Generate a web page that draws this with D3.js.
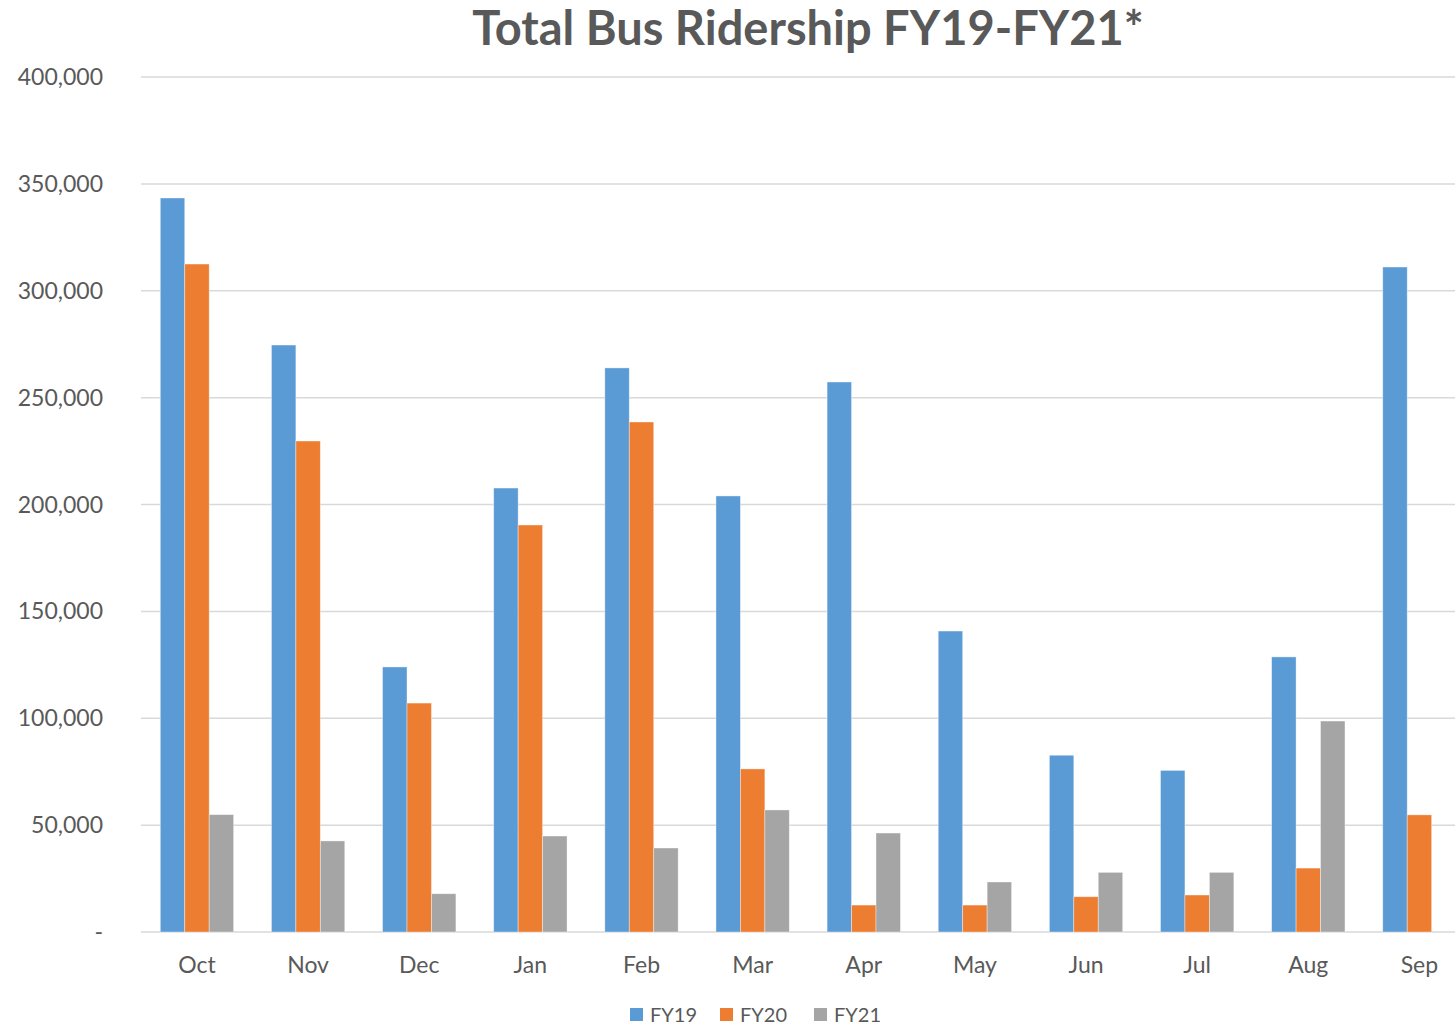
<!DOCTYPE html>
<html>
<head>
<meta charset="utf-8">
<script src="https://cdn.jsdelivr.net/npm/d3@7"></script>
<style>
  html, body { margin: 0; padding: 0; background: #fff; }
  svg { display: block; }
</style>
</head>
<body>
<svg id="chart" width="1455" height="1027"></svg>
<script>
const months = ["Oct","Nov","Dec","Jan","Feb","Mar","Apr","May","Jun","Jul","Aug","Sep"];
const seriesNames = ["FY19","FY20","FY21"];
const fy19 = [343400, 274600, 124000, 207700, 263900, 204000, 257300, 140800, 82700, 75600, 128700, 311100];
const fy20 = [312500, 229700, 107100, 190400, 238600, 76300, 12600, 12600, 16500, 17300, 29900, 54800];
const fy21 = [54900, 42600, 17900, 44900, 39300, 57100, 46300, 23400, 27900, 27900, 98700, null];
const yTicks = [0, 50000, 100000, 150000, 200000, 250000, 300000, 350000, 400000];
const colors = ["#5B9BD5", "#ED7D31", "#A5A5A5"];
const title = "Total Bus Ridership FY19-FY21*";

const svg = d3.select("#chart");
const font = "Lato, 'Open Sans', 'DejaVu Sans', sans-serif";
const textColor = "#595959";

const y = d3.scaleLinear().domain([0, 400000]).range([932, 77]);
const x0 = d3.scaleBand().domain(months).range([141.4, 1475]).paddingInner(0.34).paddingOuter(0.17);
const x1 = d3.scaleBand().domain(seriesNames).range([0, x0.bandwidth()]);

// gridlines
svg.append("g").selectAll("line").data(yTicks).join("line")
  .attr("x1", 141).attr("x2", 1455)
  .attr("y1", d => y(d)).attr("y2", d => y(d))
  .attr("stroke", "#d9d9d9").attr("stroke-width", 1.5);

// y tick labels
svg.append("g").selectAll("text").data(yTicks).join("text")
  .attr("x", 103).attr("y", d => y(d) + 8)
  .attr("text-anchor", "end")
  .attr("font-family", font).attr("font-size", 23).attr("fill", textColor)
  .text(d => d === 0 ? "-" : d3.format(",")(d));

// bars
const seriesData = [fy19, fy20, fy21];
const rows = [];
months.forEach((m, i) => {
  seriesNames.forEach((s, j) => {
    const v = seriesData[j][i];
    if (v != null) rows.push({ m, s, v, c: colors[j] });
  });
});
svg.append("g").selectAll("rect").data(rows).join("rect")
  .attr("x", d => x0(d.m) + x1(d.s))
  .attr("width", x1.bandwidth())
  .attr("y", d => y(d.v))
  .attr("height", d => y(0) - y(d.v))
  .attr("fill", d => d.c)
  .attr("stroke", "#ffffff").attr("stroke-opacity", 0.5).attr("stroke-width", 0.75);

// x labels
svg.append("g").selectAll("text").data(months).join("text")
  .attr("x", d => x0(d) + x0.bandwidth() / 2)
  .attr("y", 973)
  .attr("text-anchor", "middle")
  .attr("font-family", font).attr("font-size", 23).attr("fill", textColor)
  .text(d => d);

// title
svg.append("text")
  .attr("x", 808).attr("y", 45)
  .attr("text-anchor", "middle")
  .attr("font-family", font).attr("font-weight", "bold").attr("font-size", 47)
  .attr("fill", textColor)
  .text(title);

// legend
const legendX = [630, 720, 814];
const lg = svg.append("g").selectAll("g").data(seriesNames).join("g")
  .attr("transform", (d, i) => `translate(${legendX[i]},0)`);
lg.append("rect").attr("x", 0).attr("y", 1008).attr("width", 13).attr("height", 13)
  .attr("fill", (d, i) => colors[i]);
lg.append("text").attr("x", 20).attr("y", 1022)
  .attr("font-family", font).attr("font-size", 20).attr("fill", textColor)
  .text(d => d);
</script>
</body>
</html>
